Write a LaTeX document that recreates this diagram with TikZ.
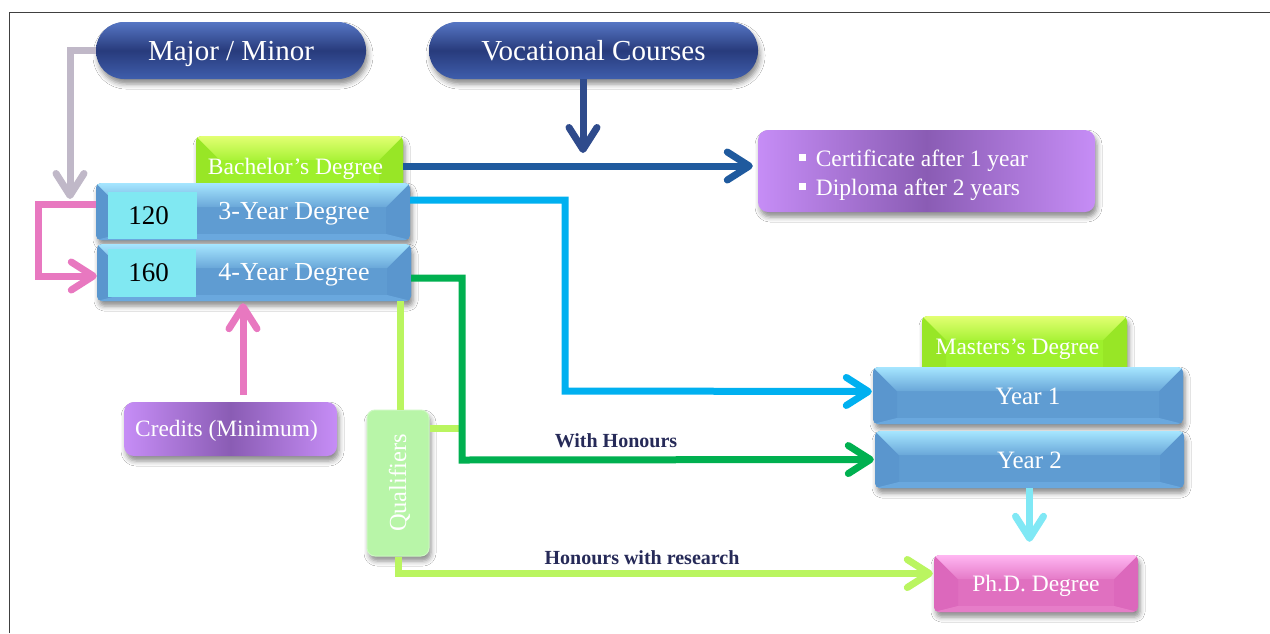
\documentclass[tikz,border=0pt]{standalone}
\usepackage{fontspec}
\setmainfont{Liberation Serif}
\usetikzlibrary{arrows.meta,shadows.blur,calc}
\definecolor{pillT}{HTML}{5676C4}
\definecolor{pillM}{HTML}{283B7C}
\definecolor{pillB}{HTML}{3F5EAC}
\definecolor{bBase}{HTML}{5F9CD2}
\definecolor{bTop}{HTML}{A6E6FF}
\definecolor{bSide}{HTML}{5A96CE}
\definecolor{bBot}{HTML}{6AA8DE}
\definecolor{gBase}{HTML}{9EF02C}
\definecolor{gTop}{HTML}{E2FF72}
\definecolor{gSide}{HTML}{98E626}
\definecolor{gBot}{HTML}{A8F23A}
\definecolor{pBase}{HTML}{E070C0}
\definecolor{pTop}{HTML}{FFB6F2}
\definecolor{pSide}{HTML}{DC68BC}
\definecolor{pBot}{HTML}{E67DC8}
\definecolor{purL}{HTML}{C68DF6}
\definecolor{purD}{HTML}{8A5CB4}
\definecolor{cyanBox}{HTML}{80E8F2}
\definecolor{qualC}{HTML}{B8F5A8}
\definecolor{cVoc}{HTML}{2F4B8C}
\definecolor{cDark}{HTML}{1F5A9E}
\definecolor{cLight}{HTML}{00B0F0}
\definecolor{cGreen}{HTML}{00B050}
\definecolor{cLime}{HTML}{BAF560}
\definecolor{cGray}{HTML}{C0B8C8}
\definecolor{cPink}{HTML}{E878C0}
\definecolor{cCyan}{HTML}{80E8F5}
\definecolor{lblC}{HTML}{262A58}
\newcommand\sqbul{\rule[0.22em]{0.28em}{0.28em}}
\tikzset{
  shad/.style={blur shadow={shadow xshift=2pt,shadow yshift=-5pt,shadow blur radius=5pt,shadow opacity=45}},
  vc/.style={text height=#1, text depth=0pt},
  bevel/.style n args={4}{fill=#1, rounded corners=5pt, shad,
    path picture={
      \coordinate (@nw) at (path picture bounding box.north west);
      \coordinate (@ne) at (path picture bounding box.north east);
      \coordinate (@sw) at (path picture bounding box.south west);
      \coordinate (@se) at (path picture bounding box.south east);
      \fill[#3,sharp corners] (@nw) -- ($(@nw)+(24,24)$) -- ($(@sw)+(24,-6)$) -- (@sw) -- cycle;
      \fill[#3,sharp corners] (@ne) -- ($(@ne)+(-24,24)$) -- ($(@se)+(-24,-6)$) -- (@se) -- cycle;
      \shade[top color=#2, bottom color=#1!85!#2,sharp corners] (@nw) -- (@ne) -- ($(@ne)+(-24,24)$) -- ($(@nw)+(24,24)$) -- cycle;
      \fill[#4,sharp corners] (@sw) -- (@se) -- ($(@se)+(-24,-6)$) -- ($(@sw)+(24,-6)$) -- cycle;
    }},
  bluebox/.style={bevel={bBase}{bTop}{bSide}{bBot}, minimum height=57pt, inner sep=0pt, vc=17pt},
  greenbox/.style={bevel={gBase}{gTop}{gSide}{gBot}, minimum height=60pt, inner sep=0pt, text=white, font=\fontsize{23.5}{28}\selectfont, vc=16pt},
  pinkbox/.style={bevel={pBase}{pTop}{pSide}{pBot}, minimum height=57pt, inner sep=0pt, text=white, font=\fontsize{23.5}{28}\selectfont, vc=16pt},
  pill/.style={rounded corners=28pt, minimum height=57pt, inner sep=0pt, top color=pillT, bottom color=pillB, middle color=pillM, text=white, font=\fontsize{29}{34}\selectfont, shad, vc=19.7pt},
  purbox/.style={rounded corners=10pt, inner sep=0pt, left color=purL, right color=purL, middle color=purD, shad, vc=15.9pt},
  cyanbox/.style={fill=cyanBox, inner sep=0pt, text=black, font=\fontsize{27}{32}\selectfont, vc=18.4pt},
  wtext/.style={text=white, inner sep=0pt},
  lbl/.style={text=lblC, font=\fontsize{20}{24}\selectfont\bfseries, inner sep=0pt, vc=13.5pt},
  arr/.style={line width=7pt, -{Straight Barb[round,length=22pt,width=28pt]}},
  plain/.style={line width=7pt},
}
\begin{document}
\begin{tikzpicture}[x=1pt,y=-1pt]
\useasboundingbox (0,0) rectangle (1270,633);
\fill[white] (0,0) rectangle (1270,633);
\draw[line width=1.3pt, black!75] (9.5,633) -- (9.5,12.5) -- (1270,12.5);

% top pills
\node[pill, minimum width=270pt] (major) at (231,50.5) {Major / Minor};
\node[pill, minimum width=329pt] (voc) at (593.5,50.5) {Vocational Courses};

% bachelor stack
\node[greenbox, minimum width=207pt] (bach) at (299.5,166) {Bachelor’s Degree\hspace*{8pt}};
\node[bluebox, minimum width=314pt] (y3) at (253,211.5) {};
\node[cyanbox, minimum width=89pt, minimum height=47pt] (c120) at (152.5,215) {120\hspace*{8pt}};
\node[wtext, vc=17.7pt, font=\fontsize{26}{30}\selectfont] (y3t) at (294,211) {3-Year Degree};
\node[bluebox, minimum width=314pt] (y4) at (254,272.5) {};
\node[cyanbox, minimum width=88pt, minimum height=48pt] (c160) at (151.5,272.5) {160\hspace*{6pt}};
\node[wtext, vc=17.7pt, font=\fontsize{26}{30}\selectfont] (y4t) at (294,272) {4-Year Degree};

% certificate box
\node[purbox, minimum width=337pt, minimum height=82pt] (cert) at (926.5,171) {};
\node[text=white, inner sep=0pt, anchor=west, align=left, font=\fontsize{23.5}{29}\selectfont] (certt) at (799,175) {\sqbul\hspace{10pt}Certificate after 1 year\\\sqbul\hspace{10pt}Diploma after 2 years};

% credits
\node[purbox, minimum width=213pt, minimum height=54pt, text=white, font=\fontsize{23.4}{28}\selectfont] (credits) at (230.5,429) {\hspace*{-8pt}Credits (Minimum)};

% masters stack
\node[greenbox, minimum width=205pt] (masters) at (1024.5,346) {Masters’s Degree\hspace*{14pt}};
\node[bluebox, minimum width=310pt, text=white, font=\fontsize{25}{30}\selectfont] (year1) at (1028,395.5) {Year 1};
\node[bluebox, minimum width=309pt, text=white, font=\fontsize{25}{30}\selectfont] (year2) at (1029.5,459.5) {Year 2};
\node[pinkbox, minimum width=204pt] (phd) at (1036,583.5) {Ph.D. Degree};

% qualifiers
\node[rounded corners=8pt, fill=qualC, draw=qualC!70!white, line width=1pt, minimum width=62pt, minimum height=146pt, inner sep=0pt, shad] (qual) at (398,483) {};
\node[wtext, vc=16.1pt, rotate=90, font=\fontsize{24.5}{28}\selectfont] (qualt) at (qual.center) {Qualifiers};

% connectors
\coordinate (gtip) at (70,199);
\draw[arr, cGray] (major.west) -| (gtip);
\draw[arr, cPink] ([yshift=7.5pt]y3.west) -- ++(-57,0) |- ([yshift=-3.5pt]y4.west);
\draw[arr, cPink, shorten <=7pt, shorten >=2pt] ([xshift=12.5pt]credits.north) -- ([xshift=12.5pt]credits.north |- y4.south);
\coordinate (vtip) at (583,153);
\draw[arr, cVoc] ([xshift=-10.5pt]voc.south) -- (vtip);
\draw[arr, cDark, shorten >=5pt] (bach.east) -- (bach.east -| cert.west);

\draw[plain, cLime] ([xshift=2pt]qual.north |- y4.south) -- ([xshift=2pt]qual.north);
\draw[plain, cLime] ([yshift=55pt]qual.east) -- ++(33,0);

\draw[arr, cLight, shorten >=1pt] ([yshift=11.5pt]y3.east) -| (565,391) -- ([yshift=4pt]year1.west);
\draw[arr, cGreen, shorten >=1pt] ([yshift=-5.5pt]y4.east) -| (462,460) -- (year2.west);
\draw[arr, cCyan, shorten >=13pt] (year2.south) -- (year2.south |- phd.north);
\draw[arr, cLime, shorten >=1pt] (qual.south) |- ([yshift=10pt]phd.west);

% labels
\node[lbl] (l1) at (616,441) {With Honours};
\node[lbl] (l2) at (642,558) {Honours with research};
\end{tikzpicture}
\end{document}
